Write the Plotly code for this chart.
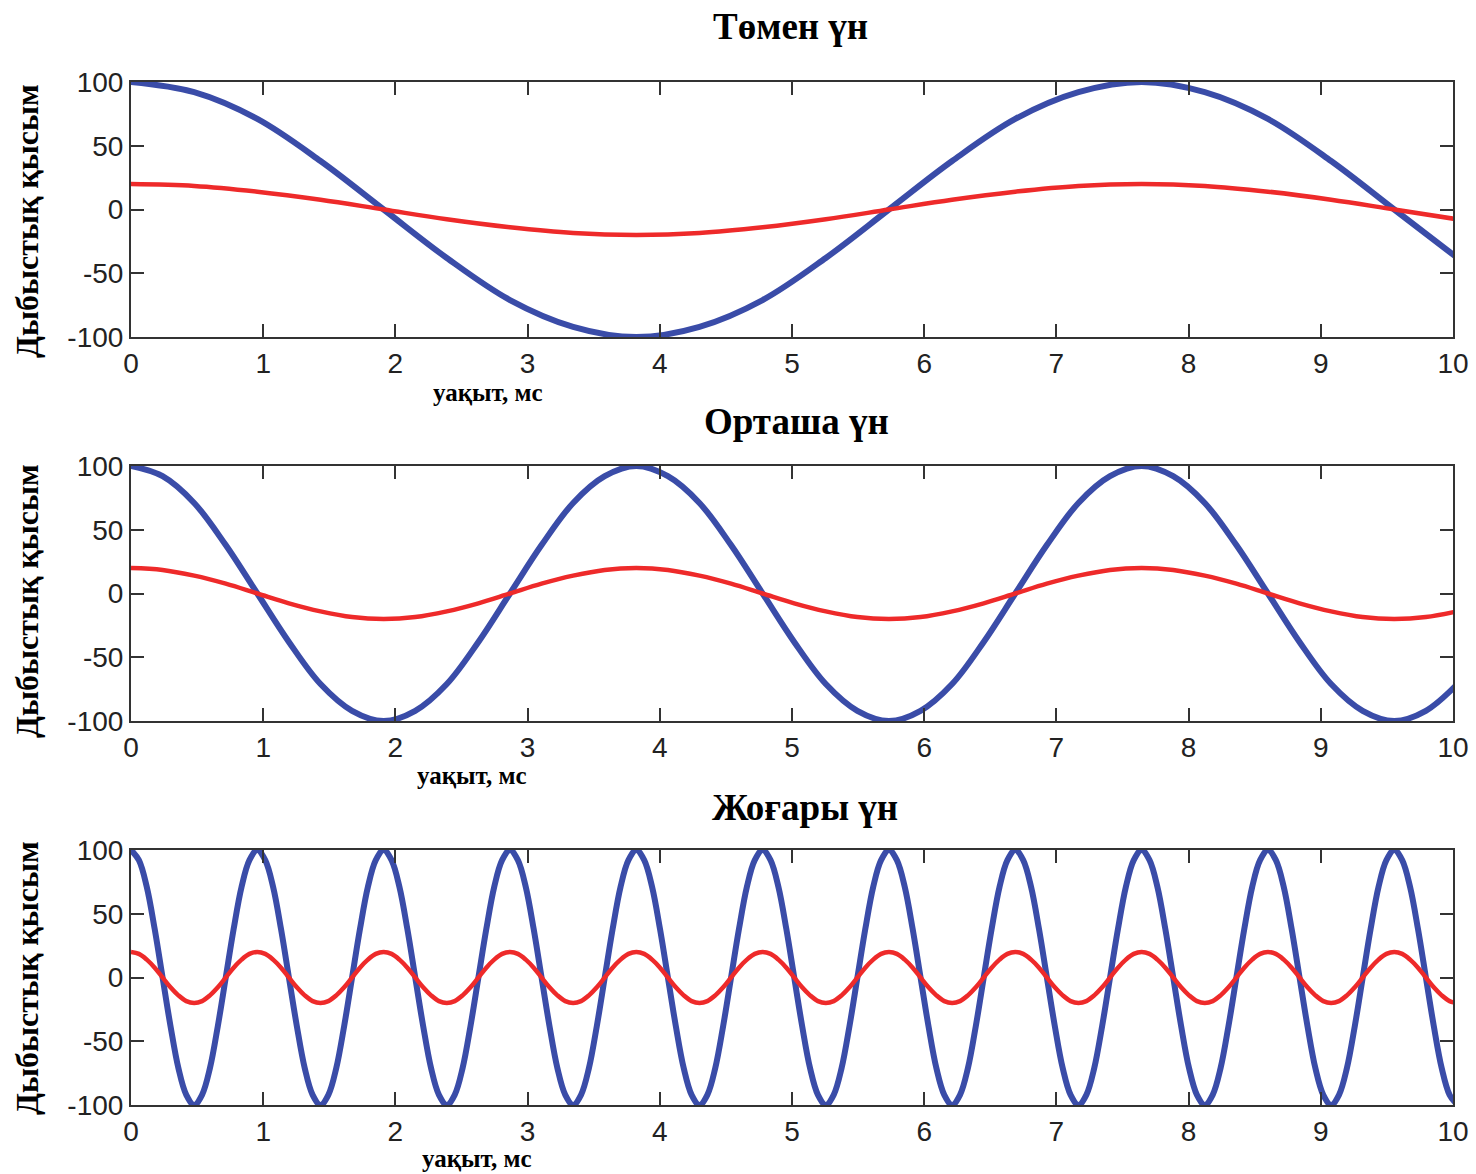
import plotly.graph_objects as go

W, H = 1476, 1174

# ---- data ----
# Each curve is sampled every 1/16 of its period, starting at t = 0 ms.
titles = ["Төмен үн", "Орташа үн", "Жоғары үн"]
xlabel = "уақыт, мс"
ylabel = "Дыбыстық қысым"
series_names = ["Үлкен амплитуда", "Кіші амплитуда"]

# sample spacing (ms): period / 16
low_step = 0.47778     # period ≈ 7.64 ms
mid_step = 0.23889     # period ≈ 3.82 ms
high_step = 0.059725   # period ≈ 0.956 ms

low_big = [100, 92, 71, 38, 0, -38, -71, -92, -100, -92, -71, -38, 0, 38, 71, 92,
           100, 92, 71, 38, 0, -38]
low_small = [20, 18.5, 14, 7.7, 0, -7.7, -14, -18.5, -20, -18.5, -14, -7.7, 0, 7.7, 14, 18.5,
             20, 18.5, 14, 7.7, 0, -7.7]

mid_big = [100, 92, 71, 38, 0, -38, -71, -92, -100, -92, -71, -38, 0, 38, 71, 92,
           100, 92, 71, 38, 0, -38, -71, -92, -100, -92, -71, -38, 0, 38, 71, 92,
           100, 92, 71, 38, 0, -38, -71, -92, -100, -92, -71]
mid_small = [20, 18.5, 14, 7.7, 0, -7.7, -14, -18.5, -20, -18.5, -14, -7.7, 0, 7.7, 14, 18.5,
             20, 18.5, 14, 7.7, 0, -7.7, -14, -18.5, -20, -18.5, -14, -7.7, 0, 7.7, 14, 18.5,
             20, 18.5, 14, 7.7, 0, -7.7, -14, -18.5, -20, -18.5, -14]

high_big = [100, 92, 71, 38, 0, -38, -71, -92, -100, -92, -71, -38, 0, 38, 71, 92,
            100, 92, 71, 38, 0, -38, -71, -92, -100, -92, -71, -38, 0, 38, 71, 92,
            100, 92, 71, 38, 0, -38, -71, -92, -100, -92, -71, -38, 0, 38, 71, 92,
            100, 92, 71, 38, 0, -38, -71, -92, -100, -92, -71, -38, 0, 38, 71, 92,
            100, 92, 71, 38, 0, -38, -71, -92, -100, -92, -71, -38, 0, 38, 71, 92,
            100, 92, 71, 38, 0, -38, -71, -92, -100, -92, -71, -38, 0, 38, 71, 92,
            100, 92, 71, 38, 0, -38, -71, -92, -100, -92, -71, -38, 0, 38, 71, 92,
            100, 92, 71, 38, 0, -38, -71, -92, -100, -92, -71, -38, 0, 38, 71, 92,
            100, 92, 71, 38, 0, -38, -71, -92, -100, -92, -71, -38, 0, 38, 71, 92,
            100, 92, 71, 38, 0, -38, -71, -92, -100, -92, -71, -38, 0, 38, 71, 92,
            100, 92, 71, 38, 0, -38, -71, -92, -100]
high_small = [20, 18.5, 14, 7.7, 0, -7.7, -14, -18.5, -20, -18.5, -14, -7.7, 0, 7.7, 14, 18.5,
              20, 18.5, 14, 7.7, 0, -7.7, -14, -18.5, -20, -18.5, -14, -7.7, 0, 7.7, 14, 18.5,
              20, 18.5, 14, 7.7, 0, -7.7, -14, -18.5, -20, -18.5, -14, -7.7, 0, 7.7, 14, 18.5,
              20, 18.5, 14, 7.7, 0, -7.7, -14, -18.5, -20, -18.5, -14, -7.7, 0, 7.7, 14, 18.5,
              20, 18.5, 14, 7.7, 0, -7.7, -14, -18.5, -20, -18.5, -14, -7.7, 0, 7.7, 14, 18.5,
              20, 18.5, 14, 7.7, 0, -7.7, -14, -18.5, -20, -18.5, -14, -7.7, 0, 7.7, 14, 18.5,
              20, 18.5, 14, 7.7, 0, -7.7, -14, -18.5, -20, -18.5, -14, -7.7, 0, 7.7, 14, 18.5,
              20, 18.5, 14, 7.7, 0, -7.7, -14, -18.5, -20, -18.5, -14, -7.7, 0, 7.7, 14, 18.5,
              20, 18.5, 14, 7.7, 0, -7.7, -14, -18.5, -20, -18.5, -14, -7.7, 0, 7.7, 14, 18.5,
              20, 18.5, 14, 7.7, 0, -7.7, -14, -18.5, -20, -18.5, -14, -7.7, 0, 7.7, 14, 18.5,
              20, 18.5, 14, 7.7, 0, -7.7, -14, -18.5, -20]

x_ticks = [0, 1, 2, 3, 4, 5, 6, 7, 8, 9, 10]
y_ticks = [-100, -50, 0, 50, 100]
y_tick_text = ["-100", "-50", "0", "50", "100"]

# ---- styling / layout ----
BLUE = "#3a4ca8"
RED = "#ee2a2a"
SERIF = "Liberation Serif, Times New Roman, serif"
SANS = "Liberation Sans, Arial, sans-serif"

panels = [
    (low_step, low_big, low_small),
    (mid_step, mid_big, mid_small),
    (high_step, high_big, high_small),
]
# pixel boxes of plot areas (top, bottom)
boxes = [(82, 337), (466, 721), (850, 1105)]
x_left, x_right = 131, 1453
title_pos = [(790, 27), (796, 421), (805, 807)]
xlab_pos = [(488, 392), (472, 775), (477, 1158)]
ylab_pos = [(27, 221), (27, 601), (27, 978)]

fig = go.Figure()
layout = dict(
    width=W, height=H,
    margin=dict(l=0, r=0, t=0, b=0, pad=0, autoexpand=False),
    paper_bgcolor="white", plot_bgcolor="white",
    showlegend=False,
    annotations=[],
)

for i, (step, big, small) in enumerate(panels):
    xa = "x" if i == 0 else f"x{i+1}"
    ya = "y" if i == 0 else f"y{i+1}"
    fig.add_trace(go.Scatter(x0=0, dx=step, y=big, mode="lines", name=series_names[0],
                             line=dict(color=BLUE, width=6, shape="spline", smoothing=1.0),
                             xaxis=xa, yaxis=ya, cliponaxis=True))
    fig.add_trace(go.Scatter(x0=0, dx=step, y=small, mode="lines", name=series_names[1],
                             line=dict(color=RED, width=4.5, shape="spline", smoothing=1.0),
                             xaxis=xa, yaxis=ya, cliponaxis=True))
    top, bot = boxes[i]
    axis_common = dict(showgrid=False, zeroline=False, showline=True, linecolor="#333",
                       linewidth=2, mirror="ticks", ticks="inside", ticklen=13,
                       tickwidth=2, tickcolor="#333", automargin=False,
                       tickfont=dict(family=SANS, size=28, color="#222"))
    xkey = "xaxis" if i == 0 else f"xaxis{i+1}"
    ykey = "yaxis" if i == 0 else f"yaxis{i+1}"
    layout[xkey] = dict(axis_common, domain=[x_left / W, x_right / W], range=[0, 10],
                        tickvals=x_ticks, anchor=ya)
    layout[ykey] = dict(axis_common, domain=[1 - bot / H, 1 - top / H], range=[-100, 100],
                        tickvals=y_ticks, ticktext=y_tick_text, anchor=xa)
    tx, ty = title_pos[i]
    layout["annotations"].append(dict(text=f"<b>{titles[i]}</b>", x=tx / W, y=1 - ty / H,
                                      xref="paper", yref="paper", showarrow=False,
                                      xanchor="center", yanchor="middle",
                                      font=dict(family=SERIF, size=37, color="black")))
    lx, ly = xlab_pos[i]
    layout["annotations"].append(dict(text=f"<b>{xlabel}</b>", x=lx / W, y=1 - ly / H,
                                      xref="paper", yref="paper", showarrow=False,
                                      xanchor="center", yanchor="middle",
                                      font=dict(family=SERIF, size=25, color="black")))
    yx, yy = ylab_pos[i]
    layout["annotations"].append(dict(text=f"<b>{ylabel}</b>", x=yx / W, y=1 - yy / H,
                                      xref="paper", yref="paper", showarrow=False,
                                      textangle=-90, xanchor="center", yanchor="middle",
                                      font=dict(family=SERIF, size=32, color="black")))

fig.update_layout(**layout)
fig.write_html("out.html", config={"displayModeBar": False},
               post_script="document.body.style.margin='0';")
